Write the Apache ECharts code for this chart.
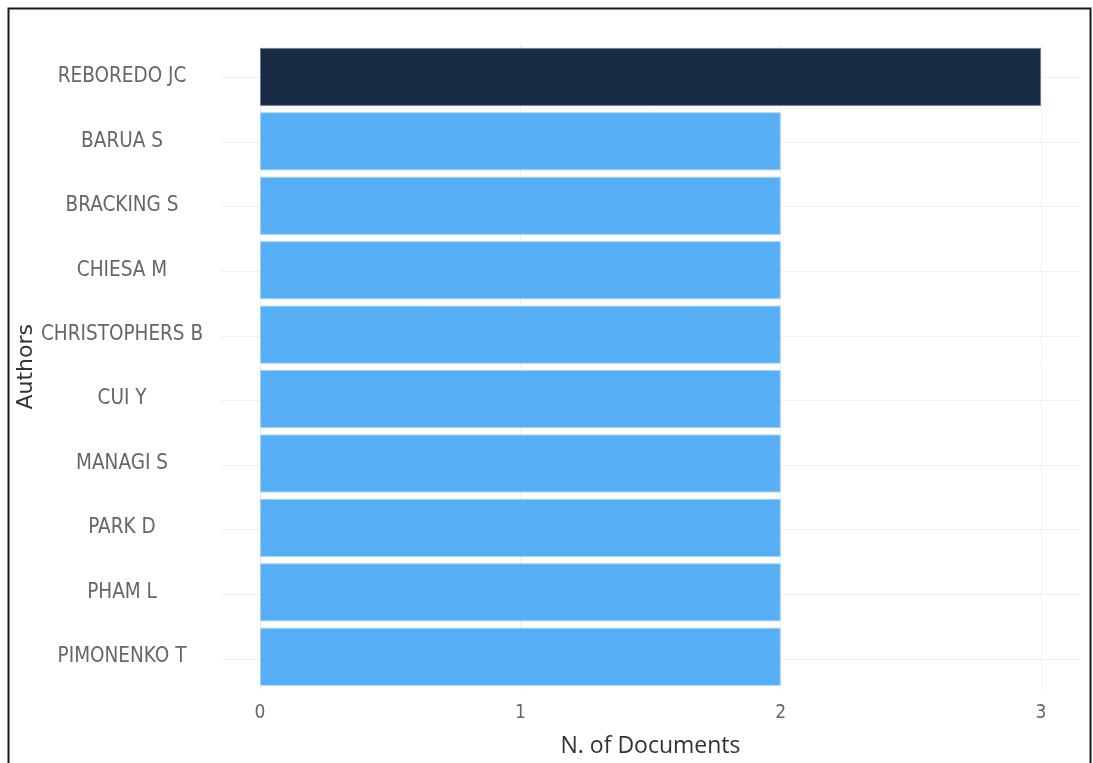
<!DOCTYPE html>
<html>
<head>
<meta charset="utf-8">
<script src="https://cdn.jsdelivr.net/npm/echarts@6/dist/echarts.min.js"></script>
<style>
  html, body { margin: 0; padding: 0; background: #fff; }
  #chart { width: 1093px; height: 763px; }
</style>
</head>
<body>
<div id="chart"></div>
<script>
// authors listed top to bottom
const authors = [
  "REBOREDO JC", "BARUA S", "BRACKING S", "CHIESA M", "CHRISTOPHERS B",
  "CUI Y", "MANAGI S", "PARK D", "PHAM L", "PIMONENKO T"
];
const documents = [3, 2, 2, 2, 2, 2, 2, 2, 2, 2];
const xTicks = [0, 1, 2, 3];

const topColor = "#172b45";
const barColor = "#56aff5";

const chart = echarts.init(document.getElementById("chart"));

const option = {
  backgroundColor: "#fff",
  animation: false,
  graphic: [
    {
      type: "rect",
      shape: { x: 8.5, y: 8.5, width: 1082, height: 800 },
      style: { fill: "none", stroke: "#1a1a1a", lineWidth: 2 },
      silent: true,
      z: 100
    }
  ],
  grid: [
    { left: 260, right: 52, top: 44.7, bottom: 72.3 },
    // wider grid just for the horizontal gridlines at category centres
    { left: 221, right: 13, top: 77.3, bottom: 104 }
  ],
  xAxis: [
    {
      type: "value",
      gridIndex: 0,
      min: xTicks[0],
      max: xTicks[xTicks.length - 1],
      interval: 1,
      name: "N. of Documents",
      nameLocation: "middle",
      nameGap: 46,
      nameMoveOverlap: false,
      nameTextStyle: { fontFamily: "Open Sans", fontSize: 23, color: "#333" },
      axisLine: { show: false },
      axisTick: { show: false },
      axisLabel: {
        margin: 15,
        fontFamily: "DejaVu Sans Condensed",
        fontSize: 19,
        color: "#666"
      },
      splitLine: { show: true, lineStyle: { color: "#f0f0f0", width: 1 } }
    },
    {
      type: "value",
      gridIndex: 1,
      show: false,
      min: 0,
      max: 1
    }
  ],
  yAxis: [
    {
      type: "category",
      gridIndex: 0,
      data: authors,
      inverse: true,
      name: "Authors",
      nameLocation: "middle",
      nameRotate: 90,
      nameGap: 223,
      nameMoveOverlap: false,
      nameTextStyle: { fontFamily: "DejaVu Sans", fontSize: 22, color: "#333" },
      axisLine: { show: false },
      axisTick: { show: false },
      splitLine: { show: false },
      axisLabel: {
        align: "center",
        margin: 138,
        fontFamily: "DejaVu Sans Condensed",
        fontSize: 20.5,
        color: "#666"
      }
    },
    {
      type: "value",
      gridIndex: 1,
      min: 0,
      max: authors.length - 1,
      interval: 1,
      inverse: true,
      axisLine: { show: false },
      axisTick: { show: false },
      axisLabel: { show: false },
      splitLine: { show: true, lineStyle: { color: "#f0f0f0", width: 1 } }
    }
  ],
  series: [
    {
      type: "bar",
      xAxisIndex: 0,
      yAxisIndex: 0,
      barCategoryGap: "10%",
      data: documents.map(function (v, i) {
        return {
          value: v,
          itemStyle: {
            color: i === 0 ? topColor : barColor,
            borderColor: i === 0 ? "#6d7f94" : "#9fd0f8",
            borderWidth: 1
          }
        };
      })
    }
  ]
};

chart.setOption(option);
</script>
</body>
</html>
